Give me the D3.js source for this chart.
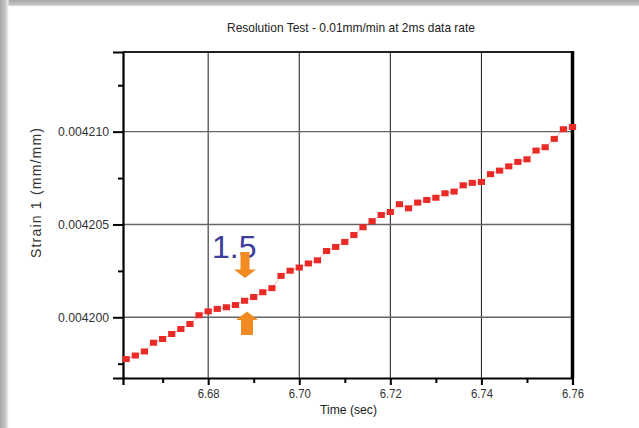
<!DOCTYPE html>
<html>
<head>
<meta charset="utf-8">
<script src="https://cdn.jsdelivr.net/npm/d3@7"></script>
<style>
  html, body { margin:0; padding:0; background:#fff; }
  svg { display:block; }
</style>
</head>
<body>
<svg id="svg" width="639" height="428"></svg>
<script>
// sample times (sec), 2 ms data rate
const times = [6.662, 6.664, 6.666, 6.668, 6.670, 6.672, 6.674, 6.676, 6.678, 6.680,
               6.682, 6.684, 6.686, 6.688, 6.690, 6.692, 6.694, 6.696, 6.698, 6.700,
               6.702, 6.704, 6.706, 6.708, 6.710, 6.712, 6.714, 6.716, 6.718, 6.720,
               6.722, 6.724, 6.726, 6.728, 6.730, 6.732, 6.734, 6.736, 6.738, 6.740,
               6.742, 6.744, 6.746, 6.748, 6.750, 6.752, 6.754, 6.756, 6.758, 6.760];
// strain 1 (mm/mm)
const strain = [0.00419775, 0.00419794, 0.00419816, 0.00419863, 0.00419883, 0.00419910, 0.00419937, 0.00419964, 0.00420011, 0.00420032,
                0.00420045, 0.00420054, 0.00420066, 0.00420089, 0.00420109, 0.00420135, 0.00420157, 0.00420223, 0.00420251, 0.00420268,
                0.00420290, 0.00420307, 0.00420357, 0.00420379, 0.00420406, 0.00420443, 0.00420485, 0.00420518, 0.00420551, 0.00420567,
                0.00420609, 0.00420587, 0.00420618, 0.00420632, 0.00420644, 0.00420668, 0.00420677, 0.00420711, 0.00420724, 0.00420729,
                0.00420771, 0.00420790, 0.00420813, 0.00420837, 0.00420851, 0.00420898, 0.00420916, 0.00420961, 0.00421013, 0.00421025];
const xMajor = [6.68, 6.70, 6.72, 6.74, 6.76];
const xMinor = [6.67, 6.69, 6.71, 6.73, 6.75];
const yMajor = [0.004200, 0.004205, 0.004210];
const yMinor = [0.0041975, 0.0042025, 0.0042075, 0.0042125];
const xDomain = [6.6613, 6.76];
const yDomain = [0.00419673, 0.00421429];
const title = 'Resolution Test - 0.01mm/min at 2ms data rate';
const xTitle = 'Time (sec)';
const yTitle = 'Strain 1 (mm/mm)';
const note = '1.5';

const data = times.map((t, i) => ({ t, v: strain[i] }));
const FONT = '"Liberation Sans",Arial,sans-serif';

const svg = d3.select('#svg');
const m = { left:123, right:572.5, top:52, bottom:378 };

// page frame shadows
const defs = svg.append('defs');
const gl = defs.append('linearGradient').attr('id', 'shL').attr('x1', 0).attr('x2', 1).attr('y1', 0).attr('y2', 0);
gl.append('stop').attr('offset', 0).attr('stop-color', '#a8a8a8');
gl.append('stop').attr('offset', 0.6).attr('stop-color', '#c4c4c4');
gl.append('stop').attr('offset', 1).attr('stop-color', '#f4f4f4');
const gt = defs.append('linearGradient').attr('id', 'shT').attr('x1', 0).attr('x2', 0).attr('y1', 0).attr('y2', 1);
gt.append('stop').attr('offset', 0).attr('stop-color', '#a8a8a8');
gt.append('stop').attr('offset', 0.7).attr('stop-color', '#c2c2c2');
gt.append('stop').attr('offset', 1).attr('stop-color', '#f2f2f2');
svg.append('rect').attr('x', 0).attr('y', 0).attr('width', 639).attr('height', 6.5).attr('fill', 'url(#shT)');
svg.append('rect').attr('x', 0).attr('y', 0).attr('width', 8.5).attr('height', 428).attr('fill', 'url(#shL)');

const x = d3.scaleLinear().domain(xDomain).range([m.left, m.right]);
const y = d3.scaleLinear().domain(yDomain).range([m.bottom, m.top]);

// grid
svg.append('g').selectAll('line').data(xMajor.slice(0, -1)).join('line')
  .attr('x1', d => x(d)).attr('x2', d => x(d)).attr('y1', m.top).attr('y2', m.bottom)
  .attr('stroke', '#1a1a1a').attr('stroke-width', 1);
svg.append('g').selectAll('line').data(yMajor).join('line')
  .attr('x1', m.left).attr('x2', m.right).attr('y1', d => y(d)).attr('y2', d => y(d))
  .attr('stroke', '#666').attr('stroke-width', 1.4);

// frame
svg.append('line').attr('x1', m.left).attr('x2', m.right + 1.5).attr('y1', m.top).attr('y2', m.top)
  .attr('stroke', '#222').attr('stroke-width', 2);
svg.append('line').attr('x1', m.right).attr('x2', m.right).attr('y1', m.top - 1).attr('y2', m.bottom)
  .attr('stroke', '#000').attr('stroke-width', 3.5);

// axes
const fmtX = d3.format('.2f'), fmtY = d3.format('.6f');
const gx = svg.append('g').attr('transform', `translate(0,${m.bottom})`)
  .call(d3.axisBottom(x).tickValues(xMajor).tickFormat(fmtX).tickSize(7).tickPadding(3));
svg.append('g').attr('transform', `translate(0,${m.bottom})`)
  .call(d3.axisBottom(x).tickValues(xMinor).tickFormat('').tickSize(5))
  .call(g => g.select('.domain').remove());
const gy = svg.append('g').attr('transform', `translate(${m.left},0)`)
  .call(d3.axisLeft(y).tickValues(yMajor).tickFormat(fmtY).tickSize(10).tickPadding(4));
svg.append('g').attr('transform', `translate(${m.left},0)`)
  .call(d3.axisLeft(y).tickValues(yMinor).tickFormat('').tickSize(5))
  .call(g => g.select('.domain').remove());

svg.selectAll('.domain').attr('stroke', '#000').attr('stroke-width', 2.2);
svg.selectAll('.tick line').attr('stroke', '#000').attr('stroke-width', 2);
gx.selectAll('text').attr('font-size', 13.5).attr('fill', '#333').attr('font-family', FONT)
  .attr('textLength', 22).attr('lengthAdjust', 'spacingAndGlyphs');
gy.selectAll('text').attr('font-size', 13.5).attr('fill', '#333').attr('font-family', FONT)
  .attr('textLength', 51).attr('lengthAdjust', 'spacingAndGlyphs');

// data
svg.append('path').datum(data)
  .attr('d', d3.line().x(d => x(d.t)).y(d => y(d.v)))
  .attr('fill', 'none').attr('stroke', '#f08080').attr('stroke-width', 0.6);
svg.append('g').selectAll('rect').data(data).join('rect')
  .attr('x', d => x(d.t) - 3.6).attr('y', d => y(d.v) - 3)
  .attr('width', 7.2).attr('height', 6)
  .attr('fill', '#ea2a26');

// titles
svg.append('text').attr('x', 351).attr('y', 32).attr('font-family', FONT)
  .attr('text-anchor', 'middle').attr('font-size', 13.5).attr('fill', '#222')
  .attr('textLength', 248).attr('lengthAdjust', 'spacingAndGlyphs').text(title);
svg.append('text').attr('x', 348.5).attr('y', 414).attr('font-family', FONT)
  .attr('text-anchor', 'middle').attr('font-size', 13.5).attr('fill', '#222')
  .attr('textLength', 57).attr('lengthAdjust', 'spacingAndGlyphs').text(xTitle);
svg.append('text').attr('transform', 'translate(41,193) rotate(-90)')
  .attr('text-anchor', 'middle').attr('font-family', FONT)
  .attr('font-size', 14).attr('fill', '#333')
  .attr('textLength', 130).attr('lengthAdjust', 'spacing').text(yTitle);

// annotation
svg.append('text').attr('x', 212).attr('y', 258)
  .attr('font-family', FONT).attr('font-size', 32)
  .attr('fill', '#3c3c9c').text(note);
const arrow = (cx, tipY, baseY, endY, hw, sw) => {
  return `M${cx},${tipY} L${cx + hw},${baseY} L${cx + sw},${baseY} L${cx + sw},${endY} ` +
         `L${cx - sw},${endY} L${cx - sw},${baseY} L${cx - hw},${baseY} Z`;
};
svg.append('path').attr('d', arrow(245, 278, 269.5, 252, 11, 4.5)).attr('fill', '#f28a22');
svg.append('path').attr('d', arrow(247, 311.5, 320, 335, 11, 6)).attr('fill', '#f28a22');
</script>
</body>
</html>
